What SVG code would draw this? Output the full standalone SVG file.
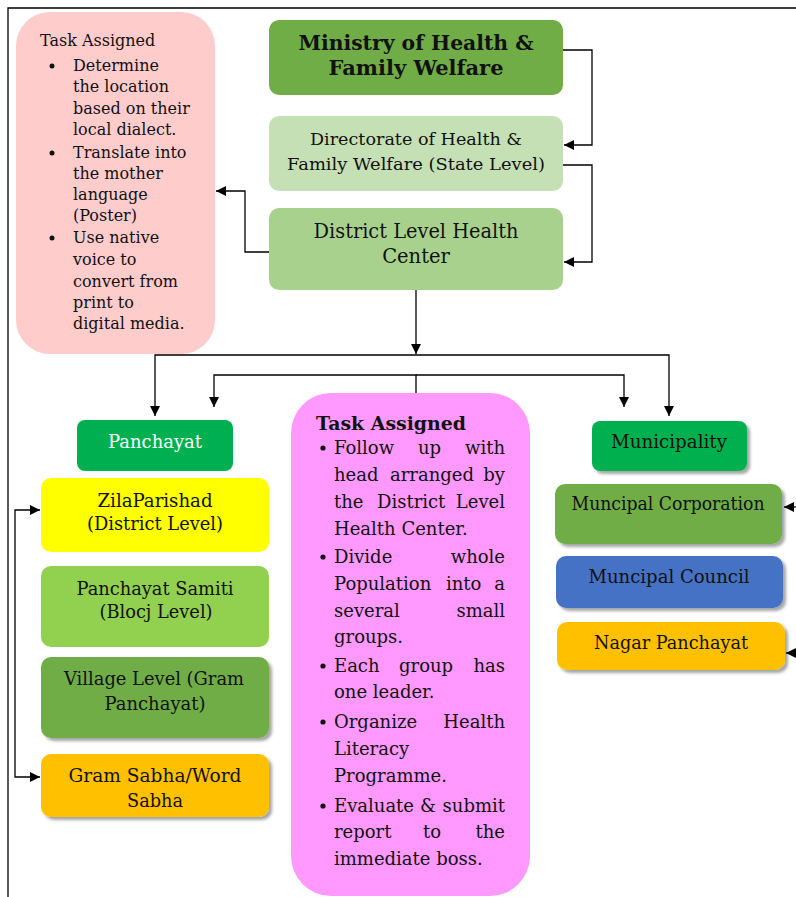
<svg xmlns="http://www.w3.org/2000/svg" width="796" height="897" viewBox="0 0 796 897">
<style>
text{font-family:"DejaVu Serif","Liberation Serif",serif;fill:#111;}
.lbl{font-size:18px;text-anchor:middle;}
.big{font-size:17.5px;text-anchor:middle;}
.note{font-size:16px;}
.task{font-size:18px;}
.conn{fill:none;stroke:#000;stroke-width:1.3;}
.bul{fill:#111;}
</style>
<defs>
<marker id="ah" viewBox="0 0 10 10" refX="10" refY="5" markerWidth="10" markerHeight="10" markerUnits="userSpaceOnUse" orient="auto-start-reverse">
<path d="M0,0 L10,5 L0,10 z" fill="#000"/>
</marker>
<filter id="sh" x="-10%" y="-10%" width="125%" height="130%">
<feDropShadow dx="3" dy="3" stdDeviation="1.5" flood-color="#000" flood-opacity="0.35"/>
</filter>
</defs>
<rect width="796" height="897" fill="#fff"/>
<!-- page border -->
<path d="M8,897 V8 H796" fill="none" stroke="#000" stroke-width="1.3"/>

<g id="task-left">
<rect x="16" y="12" width="199" height="342" rx="34" fill="#FFCCCC"/>
<text class="note" x="40" y="46">Task Assigned</text>
<circle class="bul" cx="52" cy="66" r="2.5"/>
<circle class="bul" cx="52" cy="153" r="2.5"/>
<circle class="bul" cx="52" cy="238" r="2.5"/>
<text class="note" x="73" y="71">Determine</text>
<text class="note" x="73" y="92">the location</text>
<text class="note" x="73" y="114">based on their</text>
<text class="note" x="73" y="135">local dialect.</text>
<text class="note" x="73" y="158">Translate into</text>
<text class="note" x="73" y="179">the mother</text>
<text class="note" x="73" y="200">language</text>
<text class="note" x="73" y="221">(Poster)</text>
<text class="note" x="73" y="243">Use native</text>
<text class="note" x="73" y="265">voice to</text>
<text class="note" x="73" y="287">convert from</text>
<text class="note" x="73" y="308">print to</text>
<text class="note" x="73" y="329">digital media.</text>
</g>

<g id="ministry">
<rect x="269" y="20" width="294" height="75" rx="10" fill="#70AD47"/>
<text x="416" y="50" text-anchor="middle" font-size="20" font-weight="bold" textLength="235" lengthAdjust="spacingAndGlyphs">Ministry of Health &amp;</text>
<text x="416" y="75" text-anchor="middle" font-size="20" font-weight="bold" textLength="175" lengthAdjust="spacingAndGlyphs">Family Welfare</text>
</g>

<g id="directorate">
<rect x="269" y="116" width="294" height="75" rx="10" fill="#C5E0B4"/>
<text class="big" x="416" y="145" textLength="212" lengthAdjust="spacingAndGlyphs">Directorate of Health &amp;</text>
<text class="big" x="416" y="170" textLength="258" lengthAdjust="spacingAndGlyphs">Family Welfare (State Level)</text>
</g>

<g id="district">
<rect x="269" y="208" width="294" height="82" rx="10" fill="#A9D18E"/>
<text x="416" y="238" text-anchor="middle" font-size="19.5" textLength="205" lengthAdjust="spacingAndGlyphs">District Level Health</text>
<text x="416" y="263" text-anchor="middle" font-size="19.5">Center</text>
</g>

<g id="panchayat-raj">
<rect x="77" y="420" width="156" height="51" rx="8" fill="#00B050"/>
<text class="lbl" x="155" y="448" style="fill:#fff" textLength="94" lengthAdjust="spacingAndGlyphs">Panchayat</text>
</g>

<g id="zila">
<rect x="41" y="478" width="228" height="74" rx="10" fill="#FFFF00"/>
<text class="lbl" x="155" y="507" textLength="115" lengthAdjust="spacingAndGlyphs">ZilaParishad</text>
<text class="lbl" x="155" y="530" textLength="136" lengthAdjust="spacingAndGlyphs">(District Level)</text>
</g>

<g id="samiti">
<rect x="41" y="566" width="228" height="81" rx="10" fill="#92D050"/>
<text class="lbl" x="155" y="595" textLength="157" lengthAdjust="spacingAndGlyphs">Panchayat Samiti</text>
<text class="lbl" x="156" y="618" textLength="113" lengthAdjust="spacingAndGlyphs">(Blocj Level)</text>
</g>

<g id="village">
<rect x="41" y="657" width="228" height="81" rx="10" fill="#70AD47" filter="url(#sh)"/>
<text class="lbl" x="154" y="685" textLength="180" lengthAdjust="spacingAndGlyphs">Village Level (Gram</text>
<text class="lbl" x="155" y="710" textLength="101" lengthAdjust="spacingAndGlyphs">Panchayat)</text>
</g>

<g id="gram-sabha">
<rect x="41" y="754" width="228" height="63" rx="10" fill="#FFC000" filter="url(#sh)"/>
<text class="lbl" x="155" y="782" textLength="173" lengthAdjust="spacingAndGlyphs">Gram Sabha/Word</text>
<text class="lbl" x="155" y="807" textLength="56" lengthAdjust="spacingAndGlyphs">Sabha</text>
</g>

<g id="task-middle">
<rect x="291" y="393" width="239" height="503" rx="40" fill="#FF99FF"/>
<text x="316" y="430" font-size="18.5" font-weight="bold" textLength="150" lengthAdjust="spacingAndGlyphs">Task Assigned</text>
<circle class="bul" cx="323" cy="448" r="2.6"/>
<circle class="bul" cx="323" cy="557" r="2.6"/>
<circle class="bul" cx="323" cy="666" r="2.6"/>
<circle class="bul" cx="323" cy="722" r="2.6"/>
<circle class="bul" cx="323" cy="806" r="2.6"/>
<text class="task" x="334" y="454">Follow</text>
<text class="task" x="418" y="454">up</text>
<text class="task" x="505" y="454" text-anchor="end">with</text>
<text class="task" x="334" y="481">head</text>
<text class="task" x="390" y="481">arranged</text>
<text class="task" x="505" y="481" text-anchor="end">by</text>
<text class="task" x="334" y="508">the</text>
<text class="task" x="377" y="508">District</text>
<text class="task" x="505" y="508" text-anchor="end">Level</text>
<text class="task" x="334" y="535">Health Center.</text>
<text class="task" x="334" y="563">Divide</text>
<text class="task" x="505" y="563" text-anchor="end">whole</text>
<text class="task" x="334" y="590">Population</text>
<text class="task" x="446" y="590">into</text>
<text class="task" x="505" y="590" text-anchor="end">a</text>
<text class="task" x="334" y="617">several</text>
<text class="task" x="505" y="617" text-anchor="end">small</text>
<text class="task" x="334" y="643">groups.</text>
<text class="task" x="334" y="672">Each</text>
<text class="task" x="399" y="672">group</text>
<text class="task" x="505" y="672" text-anchor="end">has</text>
<text class="task" x="334" y="698">one leader.</text>
<text class="task" x="334" y="728">Organize</text>
<text class="task" x="505" y="728" text-anchor="end">Health</text>
<text class="task" x="334" y="755">Literacy</text>
<text class="task" x="334" y="782">Programme.</text>
<text class="task" x="334" y="812">Evaluate</text>
<text class="task" x="420" y="812">&amp;</text>
<text class="task" x="505" y="812" text-anchor="end">submit</text>
<text class="task" x="334" y="838">report</text>
<text class="task" x="423" y="838">to</text>
<text class="task" x="505" y="838" text-anchor="end">the</text>
<text class="task" x="334" y="865">immediate boss.</text>
</g>

<g id="municipality">
<rect x="592" y="421" width="155" height="50" rx="8" fill="#00B050" filter="url(#sh)"/>
<text class="lbl" x="669" y="448" textLength="116" lengthAdjust="spacingAndGlyphs">Municipality</text>
</g>

<g id="corporation">
<rect x="555" y="484" width="227" height="60" rx="10" fill="#70AD47" filter="url(#sh)"/>
<text class="lbl" x="668" y="510" textLength="193" lengthAdjust="spacingAndGlyphs">Muncipal Corporation</text>
</g>

<g id="council">
<rect x="556" y="556" width="227" height="52" rx="10" fill="#4472C4" filter="url(#sh)"/>
<text class="lbl" x="669" y="583" textLength="161" lengthAdjust="spacingAndGlyphs">Muncipal Council</text>
</g>

<g id="nagar">
<rect x="557" y="622" width="228" height="48" rx="10" fill="#FFC000" filter="url(#sh)"/>
<text class="lbl" x="671" y="649" textLength="154" lengthAdjust="spacingAndGlyphs">Nagar Panchayat</text>
</g>

<g id="connectors">
<path class="conn" d="M563,50 H592 V145 H564" marker-end="url(#ah)"/>
<path class="conn" d="M563,165 H592 V262 H564" marker-end="url(#ah)"/>
<path class="conn" d="M269,252 H245 V191 H216" marker-end="url(#ah)"/>
<path class="conn" d="M416,290 V354" marker-end="url(#ah)"/>
<path class="conn" d="M416,355 H155 V416" marker-end="url(#ah)"/>
<path class="conn" d="M416,355 H669 V416" marker-end="url(#ah)"/>
<path class="conn" d="M416,393 V375 H214 V407" marker-end="url(#ah)"/>
<path class="conn" d="M416,375 H624 V407" marker-end="url(#ah)"/>
<path class="conn" d="M40,510 H15 V777 H40" marker-start="url(#ah)" marker-end="url(#ah)"/>
<path class="conn" d="M797,507 H784" marker-end="url(#ah)"/>
<path class="conn" d="M797,653 H786" marker-end="url(#ah)"/>
</g>
</svg>
